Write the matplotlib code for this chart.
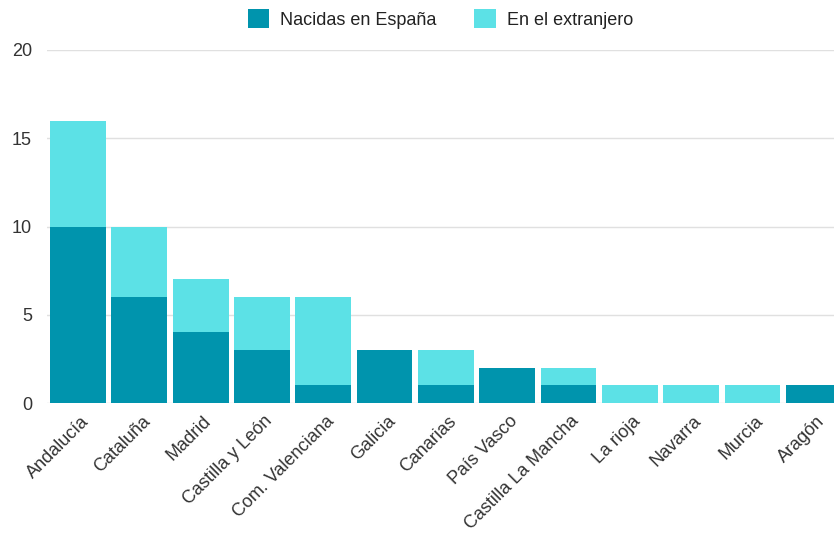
import matplotlib.pyplot as plt
import matplotlib.transforms as mtransforms
import numpy as np

plt.rcParams['font.family'] = ['Liberation Sans', 'DejaVu Sans']

regiones = ['Andalucía', 'Cataluña', 'Madrid', 'Castilla y León', 'Com. Valenciana',
            'Galicia', 'Canarias', 'País Vasco', 'Castilla La Mancha', 'La rioja',
            'Navarra', 'Murcia', 'Aragón']
nacidas_espana = [10, 6, 4, 3, 1, 3, 1, 2, 1, 0, 0, 0, 1]
extranjero = [6, 4, 3, 3, 5, 0, 2, 0, 1, 1, 1, 1, 0]
yticks = [0, 5, 10, 15, 20]

dark = '#0094ad'
light = '#5ce1e6'

fig = plt.figure(figsize=(8.34, 5.38), dpi=100)
# axes runs past the right edge, as in the cropped original
ax = fig.add_axes([47.4 / 834, (538 - 403) / 538, 797 / 834, 353 / 538])

x = np.arange(len(regiones))
w = 0.91
ax.bar(x, nacidas_espana, w, color=dark, label='Nacidas en España', zorder=3)
ax.bar(x, extranjero, w, bottom=nacidas_espana, color=light,
       label='En el extranjero', zorder=3)

ax.set_xlim(-0.5, len(regiones) - 0.5)
ax.set_ylim(0, 20)
ax.set_yticks(yticks)
ax.grid(axis='y', color='#e0e0e0', linewidth=1, zorder=0)
ax.set_axisbelow(True)
for s in ax.spines.values():
    s.set_visible(False)
ax.tick_params(axis='both', length=0, labelsize=13, colors='#333333')
ax.tick_params(axis='y', pad=11)
ax.set_xticks(x)
ax.set_xticklabels(regiones, rotation=45, ha='right', rotation_mode='anchor')
ax.tick_params(axis='x', pad=7)
shift = mtransforms.ScaledTranslation(2 / 100, 0, fig.dpi_scale_trans)
for lbl in ax.get_xticklabels():
    lbl.set_transform(lbl.get_transform() + shift)

fig.legend(loc='center', bbox_to_anchor=(0.528, 1 - 19 / 538), ncol=2, frameon=False,
           fontsize=13, handlelength=1.2, handleheight=1.2, columnspacing=2.1,
           handletextpad=0.6, labelcolor='#222222')

fig.savefig('out.png', dpi=100)
